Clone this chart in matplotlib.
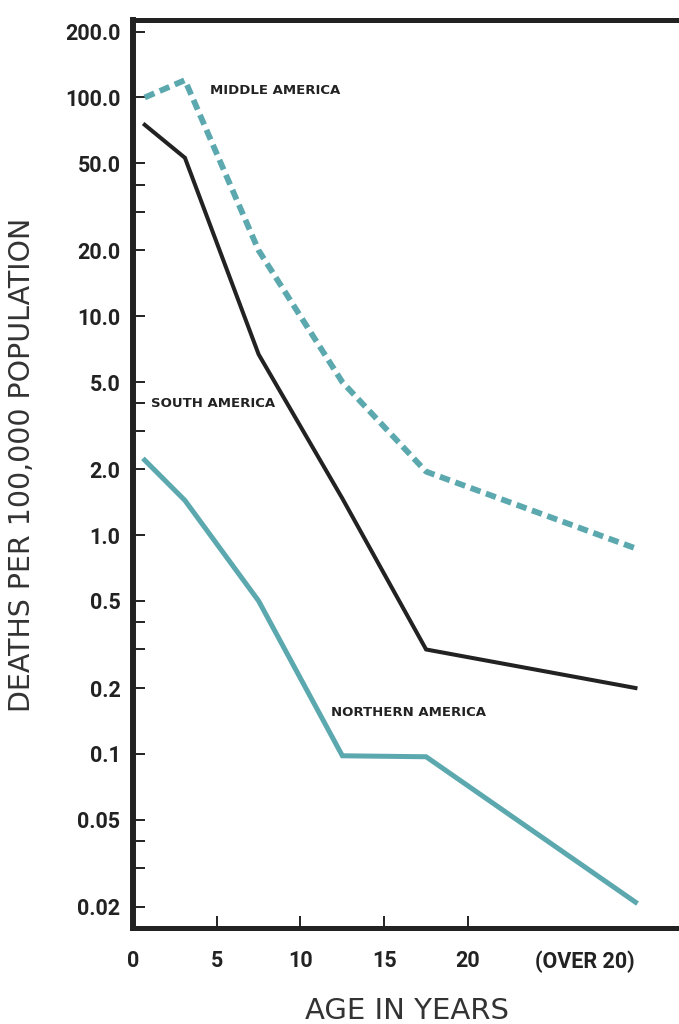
"""
    deaths per 100,000 population by age
    log scale, three regions of the americas
"""

import matplotlib
matplotlib.use("Agg")
import matplotlib.pyplot as plt
from matplotlib.ticker import FixedLocator, NullFormatter

# %% data
ageGroups = [0.7, 3.1, 7.5, 12.5, 17.5, 30.0]
middleAmerica = [100, 120, 20, 5.0, 1.95, 0.87]
southAmerica = [75, 53, 6.7, 1.47, 0.30, 0.20]
northernAmerica = [2.2, 1.44, 0.50, 0.098, 0.097, 0.021]

xTicks = [0, 5, 10, 15, 20, 27.0]
xTickLabels = ["0", "5", "10", "15", "20", "(OVER 20)"]
yTicks = [0.02, 0.05, 0.1, 0.2, 0.5, 1, 2, 5, 10, 20, 50, 100, 200]
yTickLabels = ["0.02", "0.05", "0.1", "0.2", "0.5", "1.0", "2.0", "5.0",
               "10.0", "20.0", "50.0", "100.0", "200.0"]
yMinorTicks = [0.03, 0.04, 0.3, 0.4, 3, 4, 30, 40]

# %%
teal = "#5ba8ae"
ink = "#222222"
tickFont = ["Roboto", "DejaVu Sans"]

fig = plt.figure(figsize=(6.79, 10.24), dpi=100)
ax = fig.add_axes([133 / 679, 1 - 928 / 1024, 1 - 133 / 679, (928 - 20) / 1024])

ax.plot(ageGroups, middleAmerica, color=teal, lw=4.2, dashes=(1.8, 1.0),
        solid_joinstyle="miter")
ax.plot(ageGroups, southAmerica, color=ink, lw=2.9, solid_joinstyle="miter")
ax.plot(ageGroups, northernAmerica, color=teal, lw=3.6, solid_joinstyle="miter")

ax.set_yscale("log")
ax.set_ylim(0.016, 226)
ax.set_xlim(0, 32.6)

ax.yaxis.set_major_locator(FixedLocator(yTicks))
ax.set_yticklabels(yTickLabels)
ax.yaxis.set_minor_locator(FixedLocator(yMinorTicks))
ax.yaxis.set_minor_formatter(NullFormatter())
ax.set_xticks(xTicks)
ax.set_xticklabels(xTickLabels)

# no tick marks at 0 and at the "over 20" label
for idx, t in enumerate(ax.xaxis.get_major_ticks()):
    if idx in (0, len(xTicks) - 1):
        t.tick1line.set_visible(False)

ax.tick_params(axis="both", which="both", direction="in", length=8.6,
               width=1.4, color=ink, labelcolor=ink, labelsize=15.5)
ax.tick_params(axis="y", pad=9)
ax.tick_params(axis="x", pad=16)
for lab in ax.get_xticklabels() + ax.get_yticklabels():
    lab.set_family(tickFont)
    lab.set_fontweight("bold")

for side in ["left", "top", "bottom"]:
    ax.spines[side].set_color(ink)
ax.spines["left"].set_linewidth(4.3)
ax.spines["top"].set_linewidth(3.6)
ax.spines["bottom"].set_linewidth(3.6)
ax.spines["right"].set_visible(False)

labelStyle = dict(fontsize=9.5, fontweight="bold", color=ink,
                  family=["DejaVu Sans"], va="center", ha="left")
ax.text(4.6, 108, "MIDDLE AMERICA", **labelStyle)
ax.text(1.05, 4.0, "SOUTH AMERICA", **labelStyle)
ax.text(11.8, 0.154, "NORTHERN AMERICA", **labelStyle)

fig.text(22 / 679, 1 - 465 / 1024, "DEATHS PER 100,000 POPULATION",
         rotation=90, ha="center", va="center", fontsize=20.5, color="#333333")
fig.text(407 / 679, 1 - 1011 / 1024, "AGE IN YEARS",
         ha="center", va="center", fontsize=21, color="#333333")

plt.savefig("out.png", dpi=100)
